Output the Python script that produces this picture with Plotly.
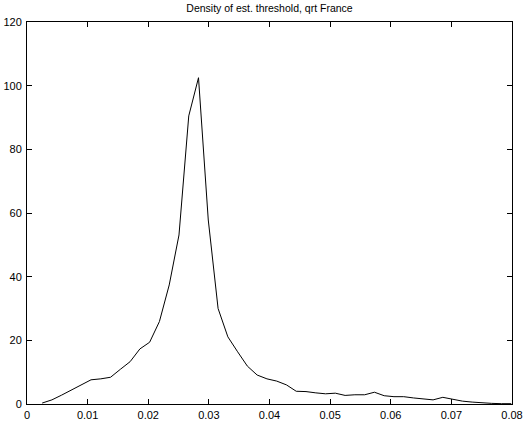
import plotly.graph_objects as go

x_vals = [0.00250, 0.00411, 0.00572, 0.00734, 0.00895, 0.01056, 0.01217, 0.01378, 0.01540, 0.01701,
          0.01862, 0.02023, 0.02184, 0.02346, 0.02507, 0.02668, 0.02829, 0.02990, 0.03152, 0.03313,
          0.03474, 0.03635, 0.03796, 0.03958, 0.04119, 0.04280, 0.04441, 0.04602, 0.04764, 0.04925,
          0.05086, 0.05247, 0.05408, 0.05570, 0.05731, 0.05892, 0.06053, 0.06214, 0.06376, 0.06537,
          0.06698, 0.06859, 0.07020, 0.07182, 0.07343, 0.07504, 0.07665, 0.07826, 0.07988]
density = [0.3, 1.3, 2.8, 4.4, 6.0, 7.6, 7.9, 8.4, 10.9, 13.3,
           17.3, 19.4, 25.9, 37.4, 53.1, 90.5, 102.5, 57.8, 30.0, 21.1,
           16.4, 11.9, 9.1, 7.9, 7.2, 6.0, 4.0, 3.9, 3.5, 3.2,
           3.4, 2.7, 2.9, 2.9, 3.7, 2.6, 2.3, 2.3, 1.9, 1.5,
           1.3, 2.1, 1.5, 0.9, 0.6, 0.3, 0.2, 0.1, 0.1]
x_ticks = [0, 0.01, 0.02, 0.03, 0.04, 0.05, 0.06, 0.07, 0.08]
x_tick_labels = ["0", "0.01", "0.02", "0.03", "0.04", "0.05", "0.06", "0.07", "0.08"]
y_ticks = [0, 20, 40, 60, 80, 100, 120]
title_text = "Density of est. threshold, qrt France"

FONT = "Liberation Sans, Arial, sans-serif"

fig = go.Figure()
fig.add_trace(go.Scatter(x=x_vals, y=density, mode="lines",
                         line=dict(color="black", width=1), showlegend=False))

axis_common = dict(showline=True, linecolor="black", linewidth=1, mirror="ticks",
                   ticks="inside", ticklen=5, tickcolor="black", tickwidth=1,
                   showgrid=False, zeroline=False, automargin=False,
                   tickfont=dict(family=FONT, size=11, color="black"))

fig.update_layout(
    width=525, height=421,
    margin=dict(l=27, r=13, t=22, b=17, autoexpand=False),
    paper_bgcolor="white", plot_bgcolor="white",
    title=dict(text=title_text, xref="paper", x=0.5, xanchor="center",
               yref="container", y=0.988, yanchor="top",
               font=dict(family=FONT, size=10.5, color="black")),
    xaxis=dict(range=[0, 0.08], tickvals=x_ticks, ticktext=x_tick_labels, ticklabelstandoff=1, **axis_common),
    yaxis=dict(range=[0, 120], tickvals=y_ticks, ticklabelstandoff=2, **axis_common),
)

fig.write_html("out.html", config={"displayModeBar": False},
               post_script="document.body.style.margin='0px';document.body.style.overflow='hidden';")
